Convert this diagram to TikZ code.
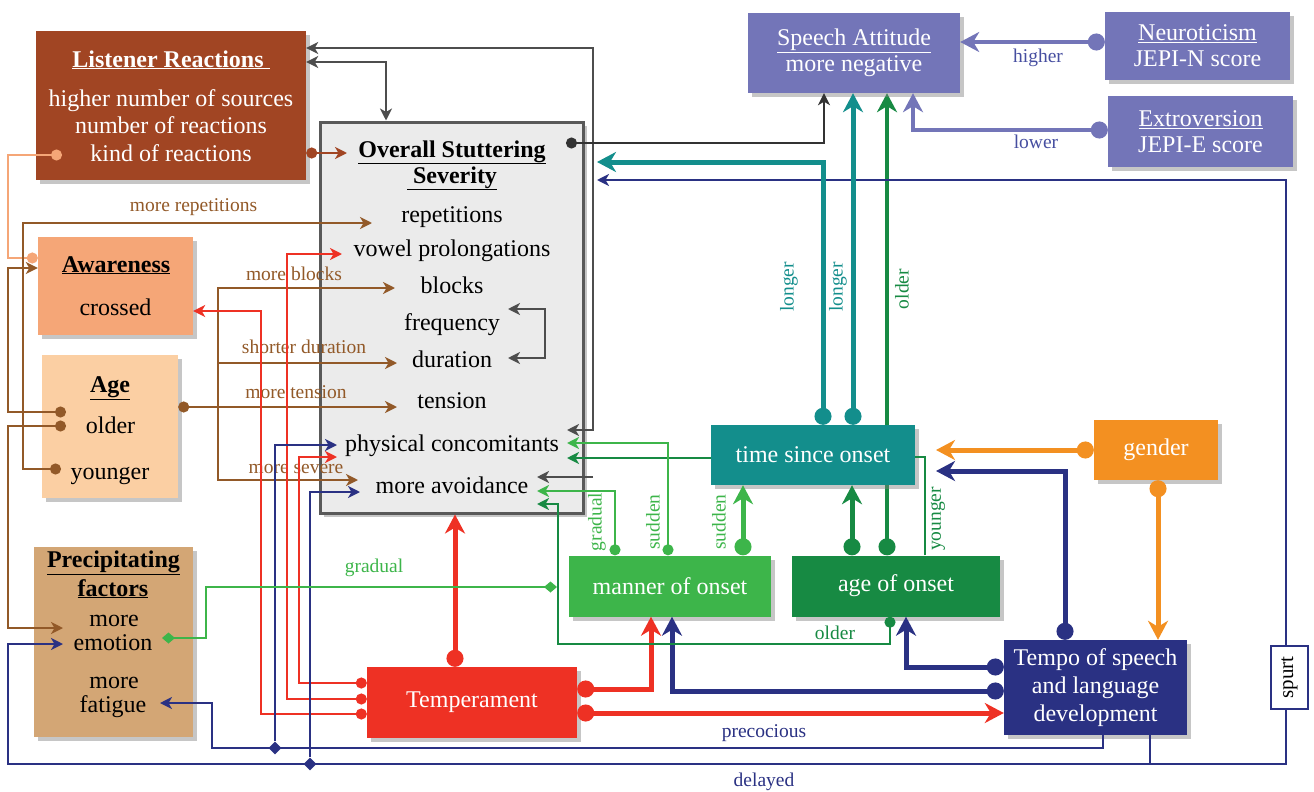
\documentclass[tikz,border=0pt]{standalone}
\usepackage{fontspec}
\setmainfont{Liberation Serif}
\usetikzlibrary{arrows.meta,shadows,shapes.geometric}
\pgfdeclarelayer{bg}
\pgfsetlayers{bg,main}

\definecolor{lrbrown}{RGB}{161,69,35}
\definecolor{agbrown}{RGB}{146,89,40}
\definecolor{awfill}{RGB}{245,166,119}
\definecolor{agfill}{RGB}{251,207,163}
\definecolor{pffill}{RGB}{211,166,117}
\definecolor{ossfill}{RGB}{235,235,235}
\definecolor{ossline}{RGB}{89,89,89}
\definecolor{gline}{RGB}{77,77,77}
\definecolor{safill}{RGB}{115,117,184}
\definecolor{satext}{RGB}{70,78,160}
\definecolor{tsofill}{RGB}{19,142,140}
\definecolor{genfill}{RGB}{243,144,33}
\definecolor{moofill}{RGB}{61,181,74}
\definecolor{aoofill}{RGB}{23,138,67}
\definecolor{tmpfill}{RGB}{42,49,131}
\definecolor{temfill}{RGB}{238,49,36}

\tikzset{
  box/.style={rectangle, inner sep=0pt,
    drop shadow={shadow xshift=4pt, shadow yshift=-4pt, opacity=.45}},
  btxt/.style={font=\fontsize{24}{26}\selectfont, align=center},
  itm/.style={font=\fontsize{24}{28}\selectfont, inner sep=0pt, anchor=base},
  lbl/.style={font=\fontsize{19.5}{22}\selectfont, inner sep=0pt, anchor=base},
  rlbl/.style={font=\fontsize{19.5}{22}\selectfont, inner sep=0pt, rotate=90},
  wire/.style={line width=2.2pt},
  fat/.style={line width=5pt},
  st/.style={-{Stealth[length=12pt,width=12pt,inset=3.5pt]}},
  sts/.style={{Stealth[length=12pt,width=12pt,inset=3.5pt]}-{Stealth[length=12pt,width=12pt,inset=3.5pt]}},
  dst/.style={{Circle[length=11pt]}-{Stealth[length=12pt,width=12pt,inset=3.5pt]}},
  dd/.style={{Circle[length=11pt]}-{Circle[length=11pt]}},
  dmd/.style={{Diamond[length=13pt,width=11pt]}-{Diamond[length=13pt,width=11pt]}},
  bdst/.style={{Circle[length=17pt]}-{Stealth[length=19pt,width=20pt,inset=6pt]}},
  jd/.style={diamond, fill=tmpfill, inner sep=0pt, minimum size=13pt}
}

\begin{document}
\begin{tikzpicture}[x=1pt, y=-1pt]
  \useasboundingbox (0,0) rectangle (1314,792);

  % boxes
  \node[box, fill=lrbrown, minimum width=270pt, minimum height=149pt] (lr) at (171,105.5) {};
  \node[itm, text=white] (lrT) at (171,67) {\textbf{\underline{Listener Reactions }}};
  \node[itm, text=white] (lr1) at (171,106) {higher number of sources};
  \node[itm, text=white] (lr2) at (171,133) {number of reactions};
  \node[itm, text=white] (lr3) at (171,161) {kind of reactions};

  \node[box, fill=ossfill, draw=ossline, line width=3pt, minimum width=263pt, minimum height=391pt] (oss) at (451.5,317.5) {};
  \node[itm] (ossT) at (452,157) {\textbf{\underline{Overall Stuttering}}};
  \node[itm] (ossT2) at (452,183) {\textbf{\underline{~Severity}}};
  \node[itm] (rep) at (452,222) {repetitions};
  \node[itm] (vow) at (452,256) {vowel prolongations};
  \node[itm] (blk) at (452,293) {blocks};
  \node[itm] (frq) at (452,330) {frequency};
  \node[itm] (dur) at (452,367) {duration};
  \node[itm] (ten) at (452,408) {tension};
  \node[itm] (phy) at (452,451) {physical concomitants};
  \node[itm] (avo) at (452,493) {more avoidance};

  \node[box, fill=awfill, minimum width=155pt, minimum height=98pt] (aw) at (115.5,286) {};
  \node[itm] (awT) at (116,272) {\textbf{\underline{Awareness}}};
  \node[itm] (awX) at (115.5,315) {crossed};

  \node[box, fill=agfill, minimum width=136pt, minimum height=143pt] (age) at (110,426.5) {};
  \node[itm] (ageT) at (110,392) {\textbf{\underline{Age}}};
  \node[itm] (old) at (110.5,433) {older};
  \node[itm] (yng) at (110,479) {younger};

  \node[box, fill=pffill, minimum width=159pt, minimum height=190pt] (pf) at (113.5,642) {};
  \node[itm] (pfT) at (113.5,567) {\textbf{\underline{Precipitating}}};
  \node[itm] (pfT2) at (113,596) {\textbf{\underline{factors}}};
  \node[itm] (emo1) at (114,626) {more};
  \node[itm] (emo) at (113,650) {emotion};
  \node[itm] (fat1) at (114,688) {more};
  \node[itm] (fat) at (113,712) {fatigue};

  \node[box, btxt, fill=safill, text=white, minimum width=212pt, minimum height=80pt] (sa) at (854,53) {\underline{Speech Attitude}\\more negative};
  \node[box, btxt, fill=safill, text=white, minimum width=185pt, minimum height=68pt] (neu) at (1197.5,46) {\underline{Neuroticism}\\JEPI-N score};
  \node[box, btxt, fill=safill, text=white, minimum width=185pt, minimum height=71pt] (ext) at (1200.5,131.5) {\underline{Extroversion}\\JEPI-E score};
  \node[box, btxt, fill=tsofill, text=white, minimum width=204pt, minimum height=60pt] (tso) at (813,455) {time since onset};
  \node[box, btxt, fill=genfill, text=white, minimum width=124pt, minimum height=60pt] (gen) at (1156,450) {gender};
  \node[box, btxt, fill=moofill, text=white, minimum width=202pt, minimum height=61pt] (moo) at (670,586) {manner of onset};
  \node[box, btxt, fill=aoofill, text=white, minimum width=208pt, minimum height=61pt] (aoo) at (896,586) {age of onset};
  \node[box, font=\fontsize{24}{28}\selectfont, align=center, fill=tmpfill, text=white, minimum width=183pt, minimum height=95pt] (tmp) at (1095.5,687.5) {Tempo of speech\\and language\\development};
  \node[box, btxt, fill=temfill, text=white, minimum width=210pt, minimum height=71pt] (tem) at (472,702.5) {Temperament};

  \node[jd] (jp) at (275,748) {};
  \node[jd] (jdl) at (310,764) {};

  % gray
  \draw[wire, gline, sts] (567,430) -- (593,430) |- (lr.east |- 0,48);
  \draw[wire, gline, st] (593,477) -- (537,477);
  \draw[wire, gline, sts] (lr.east |- 0,62) -| (oss.north -| 386,0);
  \draw[wire, black!80, dst] (566,143) -| (sa.south -| 824,0);
  \draw[wire, gline, sts] (508,309) -- (545,309) -- (545,358) -- (508,358);

  % listener
  \draw[wire, lrbrown, dst] (lr.east |- 0,153) -- (347,153);
  \draw[wire, awfill, dd] (62,155) -| (8,258) -- (aw.west |- 0,258);

  % age
  \draw[wire, agbrown, dst] (61,469) -| (23,223) -- (372,223);
  \draw[wire, agbrown, dst] (66,412) -| (8,268) -- (aw.west |- 0,268);
  \draw[wire, agbrown, dst] (66,426) -| (8,628) -- (63,628);
  \draw[wire, agbrown, dst] (age.east |- 0,407) -- (397,407);
  \draw[wire, agbrown, st] (218,407) |- (395,288);
  \draw[wire, agbrown, st] (218,407) |- (397,363);
  \draw[wire, agbrown, st] (218,407) |- (358,480);
  \node[lbl, agbrown] (lRep) at (193.5,211) {more repetitions};
  \node[lbl, agbrown] (lBlk) at (294,280) {more blocks};
  \node[lbl, agbrown] (lDur) at (304,353) {shorter duration};
  \node[lbl, agbrown] (lTen) at (296,398) {more tension};
  \node[lbl, agbrown] (lSev) at (296,473) {more severe};

  % temperament
  \draw[wire, temfill, dst] (tem.west |- 0,683) -| (299,457) -- (337,457);
  \draw[wire, temfill, dst] (tem.west |- 0,699) -| (287,254) -- (342,254);
  \draw[wire, temfill, dst] (tem.west |- 0,714) -| (261,311) -- (aw.east |- 0,311);
  \draw[fat, temfill, bdst] (tem.north -| 455,0) -- (oss.south -| 455,0);
  \draw[fat, temfill, bdst] (tem.east |- 0,689) -| (moo.south -| 651,0);
  \draw[fat, temfill, bdst] (tem.east |- 0,713) -- (tmp.west |- 0,713);

  % tempo
  \draw[fat, tmpfill, bdst] (tmp.north -| 1065,0) |- (936,471);
  \draw[fat, tmpfill, bdst] (tmp.west |- 0,667) -| (aoo.south -| 906,0);
  \draw[fat, tmpfill, bdst] (tmp.west |- 0,691) -| (moo.south -| 672,0);
  \draw[wire, tmpfill, st] (tmp.south -| 1103,0) |- (212,748) |- (160,703);
  \draw[wire, tmpfill, st] (jp) |- (337,445);
  \draw[wire, tmpfill, st] (tmp.south -| 1150,0) |- (8,764) |- (63,644);
  \draw[wire, tmpfill, st] (jdl) |- (360,492);
  \draw[wire, tmpfill, st] (tmp.south -| 1150,0) |- (1286,764) |- (597,180);
  \node[lbl, tmpfill] (lPre) at (764,737) {precocious};
  \node[lbl, tmpfill] (lDel) at (764,786) {delayed};

  % gender
  \draw[fat, genfill, bdst] (gen.west) -- (936,0 |- gen.west);
  \draw[fat, genfill, bdst] (gen.south -| 1158,0) -- (tmp.north -| 1158,0);

  % time since onset
  \draw[fat, tsofill, bdst] (tso.north -| 823,0) |- (597,162);
  \draw[fat, tsofill, bdst] (tso.north -| 853,0) -- (sa.south -| 853,0);
  \draw[wire, aoofill, st] (tso.west |- 0,458) -- (567,458);
  \node[rlbl, tsofill] (lLg1) at (789,287) {longer};
  \node[rlbl, tsofill] (lLg2) at (838,287) {longer};

  % age of onset
  \draw[fat, aoofill, bdst] (aoo.north -| 852,0) -- (tso.south -| 852,0);
  \begin{pgfonlayer}{bg}
    \draw[line width=4.5pt, aoofill, bdst] (aoo.north -| 887,0) -- (sa.south -| 887,0);
  \end{pgfonlayer}
  \draw[wire, aoofill, dst] (aoo.south -| 890,0) |- (558,644) |- (537,504);
  \draw[line width=2pt, aoofill] (aoo.north -| 925,0) |- (tso.east |- 0,457);
  \node[rlbl, aoofill] (lOld) at (902,289) {older};
  \node[rlbl, aoofill] (lYg) at (938,519) {younger};
  \node[lbl, aoofill] (lOl2) at (835,639) {older};

  % manner of onset
  \draw[fat, moofill, bdst] (moo.north -| 743,0) -- (tso.south -| 743,0);
  \draw[wire, moofill, dst] (moo.north -| 615,0) |- (537,491);
  \draw[wire, moofill, dst] (moo.north -| 668,0) |- (567,443);
  \draw[wire, moofill, dmd] (162,638) -| (206,587) -- (557,587);
  \node[rlbl, moofill] (lGr) at (597,522) {gradual};
  \node[rlbl, moofill] (lSd1) at (653,522) {sudden};
  \node[rlbl, moofill] (lSd2) at (719,522) {sudden};
  \node[lbl, moofill] (lGr2) at (374,572) {gradual};

  % personality
  \draw[line width=4.5pt, safill, bdst] (neu.west |- 0,42) -- (sa.east |- 0,42);
  \draw[line width=4.5pt, safill, bdst] (ext.west |- 0,130) -| (sa.south -| 913,0);
  \node[lbl, satext] (lHi) at (1038,63) {higher};
  \node[lbl, satext] (lLo) at (1036,148) {lower};

  \node[draw=tmpfill, line width=2pt, fill=white, rotate=90, minimum width=63pt, minimum height=37pt, inner sep=0pt, font=\fontsize{21}{24}\selectfont] (spt) at (1289.5,677.5) {spurt};
\end{tikzpicture}
\end{document}
